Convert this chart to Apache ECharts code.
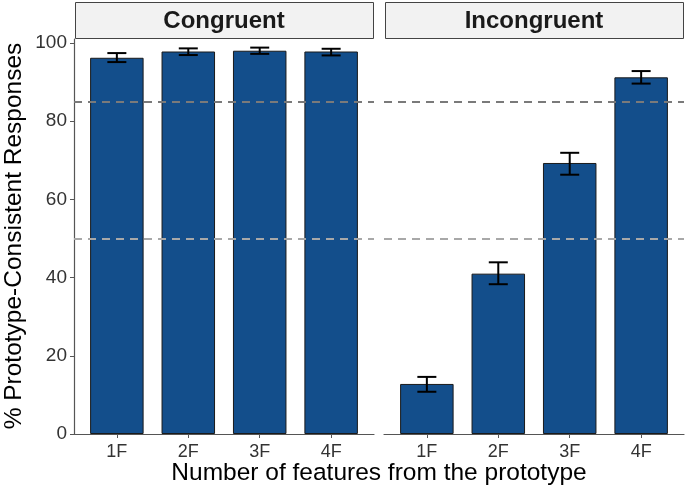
<!DOCTYPE html>
<html><head><meta charset="utf-8">
<script src="https://cdn.jsdelivr.net/npm/echarts@6/dist/echarts.min.js"></script>
<style>html,body{margin:0;padding:0;background:#fff}#c{width:685px;height:492px}</style>
</head><body><div id="c"></div>
<script>
const categories = ['1F','2F','3F','4F'];
const panels = ['Congruent','Incongruent'];
const congruentMean  = [96.2, 97.8, 98.0, 97.8];
const congruentLower = [95.1, 96.9, 97.2, 96.8];
const congruentUpper = [97.4, 98.6, 98.8, 98.5];
const incongruentMean  = [12.8, 41.0, 69.3, 91.2];
const incongruentLower = [10.8, 38.3, 66.3, 89.6];
const incongruentUpper = [14.6, 43.9, 71.9, 92.8];
const refLines = [85, 50];
const yTicks = [0, 20, 40, 60, 80, 100];

const FONT = 'Liberation Sans, Arial, sans-serif';
const chart = echarts.init(document.getElementById('c'), null, {renderer:'canvas'});

const grids = [
  {left:74, top:39, width:300, height:395},
  {left:384, top:39, width:300, height:395}
];
const means = [congruentMean, incongruentMean];
const lows = [congruentLower, incongruentLower];
const ups = [congruentUpper, incongruentUpper];

const xAxes = grids.map((g,i)=>({
  type:'value', gridIndex:i, min:0.4, max:4.6,
  axisLine:{show:true, lineStyle:{color:'#555', width:1.2}},
  axisTick:{show:true, customValues:[1,2,3,4], length:4, lineStyle:{color:'#555'}},
  axisLabel:{customValues:[1,2,3,4], formatter:v=>categories[Math.round(v)-1]||'',
    color:'#333', fontSize:18, fontFamily:FONT, margin:9},
  splitLine:{show:false}
}));
const yAxes = grids.map((g,i)=>({
  type:'value', gridIndex:i, min:0, max:101,
  axisLine:{show:i===0, lineStyle:{color:'#555', width:1.2}},
  axisTick:{show:i===0, customValues:yTicks, length:4, lineStyle:{color:'#555'}},
  axisLabel:{show:i===0, customValues:yTicks, color:'#333', fontSize:19, fontFamily:FONT, margin:7},
  splitLine:{show:false}
}));

const series = [];
grids.forEach((g,i)=>{
  series.push({
    type:'bar', xAxisIndex:i, yAxisIndex:i, barWidth:53.5,
    data: means[i].map((v,k)=>[k+1, v]),
    itemStyle:{color:'#134e8b', borderColor:'#1a1a1a', borderWidth:1},
    markLine:{silent:true, symbol:'none', label:{show:false}, z:10,
      data: refLines.map((r,j)=>({yAxis:r, lineStyle:{color: j===0?'#7a7a7a':'#a8a8a8', type:[8,6], width:1.8}}))
    }
  });
  series.push({
    type:'custom', xAxisIndex:i, yAxisIndex:i, z:5,
    data: means[i].map((v,k)=>[k+1, lows[i][k], ups[i][k]]),
    renderItem:(params, api)=>{
      const lo = api.coord([api.value(0), api.value(1)]);
      const hi = api.coord([api.value(0), api.value(2)]);
      const hw = 9.5;
      const st = {stroke:'#000', lineWidth:2};
      return {type:'group', children:[
        {type:'line', shape:{x1:lo[0], y1:lo[1], x2:hi[0], y2:hi[1]}, style:st},
        {type:'line', shape:{x1:lo[0]-hw, y1:lo[1], x2:lo[0]+hw, y2:lo[1]}, style:st},
        {type:'line', shape:{x1:hi[0]-hw, y1:hi[1], x2:hi[0]+hw, y2:hi[1]}, style:st}
      ]};
    }
  });
});

const graphics = [];
grids.forEach((g,i)=>{
  graphics.push({type:'rect', left:g.left+1, top:2, shape:{width:g.width-2, height:36},
    style:{fill:'#f2f2f2', stroke:'#444', lineWidth:1}});
  graphics.push({type:'text', x:g.left+g.width/2, y:21,
    style:{text:panels[i], fontSize:24, fontWeight:'bold', fontFamily:FONT, fill:'#1a1a1a', align:'center', verticalAlign:'middle'}});
});
graphics.push({type:'text', x:379, y:473,
  style:{text:'Number of features from the prototype', fontSize:24.5, fontFamily:FONT, fill:'#000', align:'center', verticalAlign:'middle'}});
graphics.push({type:'text', x:14, y:236, rotation:Math.PI/2,
  style:{text:'% Prototype-Consistent Responses', fontSize:24.5, fontFamily:FONT, fill:'#000', align:'center', verticalAlign:'middle'}});

chart.setOption({
  animation:false,
  backgroundColor:'#fff',
  grid:grids,
  xAxis:xAxes,
  yAxis:yAxes,
  series:series,
  graphic:graphics
});
</script></body></html>
